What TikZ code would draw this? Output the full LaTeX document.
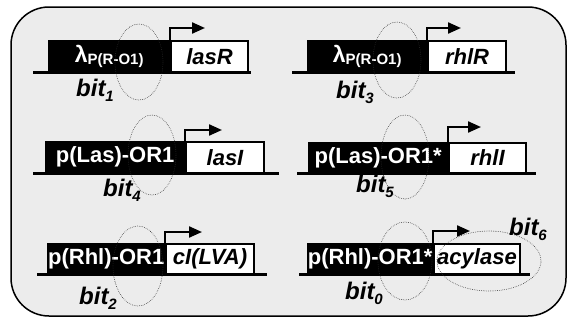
\documentclass[tikz,border=0pt]{standalone}
\usepackage{fontspec}
\setmainfont{Liberation Sans}
\usetikzlibrary{shapes.geometric,arrows.meta}
\definecolor{panel}{RGB}{236,236,236}
\definecolor{loopc}{RGB}{40,40,40}
\newcommand{\lbl}[1]{\fontsize{22}{22}\selectfont\bfseries #1}
\newcommand{\gen}[1]{\fontsize{22}{22}\selectfont\bfseries\itshape #1}
\newcommand{\lam}{{\fontsize{23}{23}\selectfont\bfseries λ}\raisebox{-0.45ex}{\fontsize{15}{15}\selectfont\bfseries P(R-O1)}}
\newcommand{\bitname}[1]{\fontsize{24}{24}\selectfont\bfseries\itshape bit\raisebox{-0.4ex}{\fontsize{15}{15}\selectfont #1}}
\tikzset{
  frame/.style={draw=black, line width=1.5pt, fill=panel, rounded corners=38pt},
  dna/.style={line width=3pt, black},
  promoter/.style={fill=black, draw=none, text=white, inner sep=0pt, minimum height=32pt, anchor=north west},
  gene/.style={fill=white, draw=black, line width=2pt, text=black, inner sep=0pt, minimum height=32pt, anchor=north west},
  startarrow/.style={line width=2.2pt, -{Triangle[length=13pt,width=11pt]}},
  bitloop/.style={ellipse, draw=loopc, line width=0.8pt, line cap=round, dash pattern=on 0pt off 1.8pt, inner sep=0pt},
  bitlabel/.style={text=black, inner sep=0pt}
}
\begin{document}
\begin{tikzpicture}[x=1pt,y=-1pt]
\useasboundingbox (0,0) rectangle (568,322);
\draw[frame] (11,7) rectangle (566,316);

% ---- lambda_P(R-O1) -> lasR
\coordinate (l1) at (33,72); \coordinate (r1) at (251,72);
\draw[dna] (l1) -- (r1);
\node[promoter, minimum width=122pt] (p1) at (48,40) {\lam};
\node[gene, minimum width=77pt, minimum height=31pt] (g1) at (170,40) {\gen{lasR}};
\coordinate (t1) at (205,28);
\draw[startarrow] (g1.north west) |- (t1);
\node[bitloop, minimum width=48pt, minimum height=76pt] (e1) at (139,62) {};
\node[bitlabel] (b1) at (95,90) {\bitname{1}};

% ---- lambda_P(R-O1) -> rhlR
\coordinate (l3) at (292,72); \coordinate (r3) at (515,72);
\draw[dna] (l3) -- (r3);
\node[promoter, minimum width=120pt] (p3) at (307,40) {\lam};
\node[gene, minimum width=78pt, minimum height=31pt] (g3) at (427,40) {\gen{rhlR}};
\coordinate (t3) at (461,28);
\draw[startarrow] (g3.north west) |- (t3);
\node[bitloop, minimum width=48pt, minimum height=76pt] (e3) at (397,60) {};
\node[bitlabel] (b3) at (355,92) {\bitname{3}};

% ---- p(Las)-OR1 -> lasI
\coordinate (l4) at (33,173); \coordinate (r4) at (279,173);
\draw[dna] (l4) -- (r4);
\node[promoter, minimum width=140pt] (p4) at (45,141) {\lbl{p(Las)-OR1}};
\node[gene, minimum width=78pt, minimum height=31pt] (g4) at (185,141) {\gen{lasI}};
\coordinate (t4) at (222,130);
\draw[startarrow] (g4.north west) |- (t4);
\node[bitloop, minimum width=48pt, minimum height=80pt] (e4) at (152,155) {};
\node[bitlabel] (b4) at (122,190) {\bitname{4}};

% ---- p(Las)-OR1* -> rhlI
\coordinate (l5) at (297,173); \coordinate (r5) at (536,173);
\draw[dna] (l5) -- (r5);
\node[promoter, minimum width=140pt] (p5) at (308,142) {\lbl{p(Las)-OR1*}};
\node[gene, minimum width=77pt, minimum height=30pt] (g5) at (448,142) {\gen{rhlI}};
\coordinate (t5) at (481,127);
\draw[startarrow] (g5.north west) |- (t5);
\node[bitloop, minimum width=48pt, minimum height=84pt] (e5) at (405,157) {};
\node[bitlabel] (b5) at (375,186) {\bitname{5}};

% ---- p(Rhl)-OR1 -> cI(LVA)
\coordinate (l2) at (37,274); \coordinate (r2) at (267,274);
\draw[dna] (l2) -- (r2);
\node[promoter, minimum width=118pt, minimum height=31pt] (p2) at (47,243) {\lbl{p(Rhl)-OR1}};
\node[gene, minimum width=88pt, minimum height=30pt] (g2) at (165,243) {\gen{cI(LVA)}};
\coordinate (t2) at (202,232);
\draw[startarrow] (g2.north west) |- (t2);
\node[bitloop, minimum width=50pt, minimum height=80pt] (e2) at (138,266) {};
\node[bitlabel] (b2) at (98,298) {\bitname{2}};

% ---- p(Rhl)-OR1* -> acylase
\coordinate (l0) at (299,274); \coordinate (r0) at (530,274);
\draw[dna] (l0) -- (r0);
\node[promoter, minimum width=126pt, minimum height=31pt] (p0) at (307,243) {\lbl{p(Rhl)-OR1*}};
\node[gene, minimum width=86pt, minimum height=30pt] (g0) at (433,243) {\gen{acylase}};
\coordinate (t0) at (470,231);
\draw[startarrow] (g0.north west) |- (t0);
\node[bitloop, minimum width=54pt, minimum height=78pt] (e0) at (405,261) {};
\node[bitlabel] (b0) at (364,293) {\bitname{0}};
\node[bitloop, minimum width=104pt, minimum height=60pt] (e6) at (489,261) {};
\node[bitlabel] (b6) at (528,229) {\bitname{6}};
\end{tikzpicture}
\end{document}
